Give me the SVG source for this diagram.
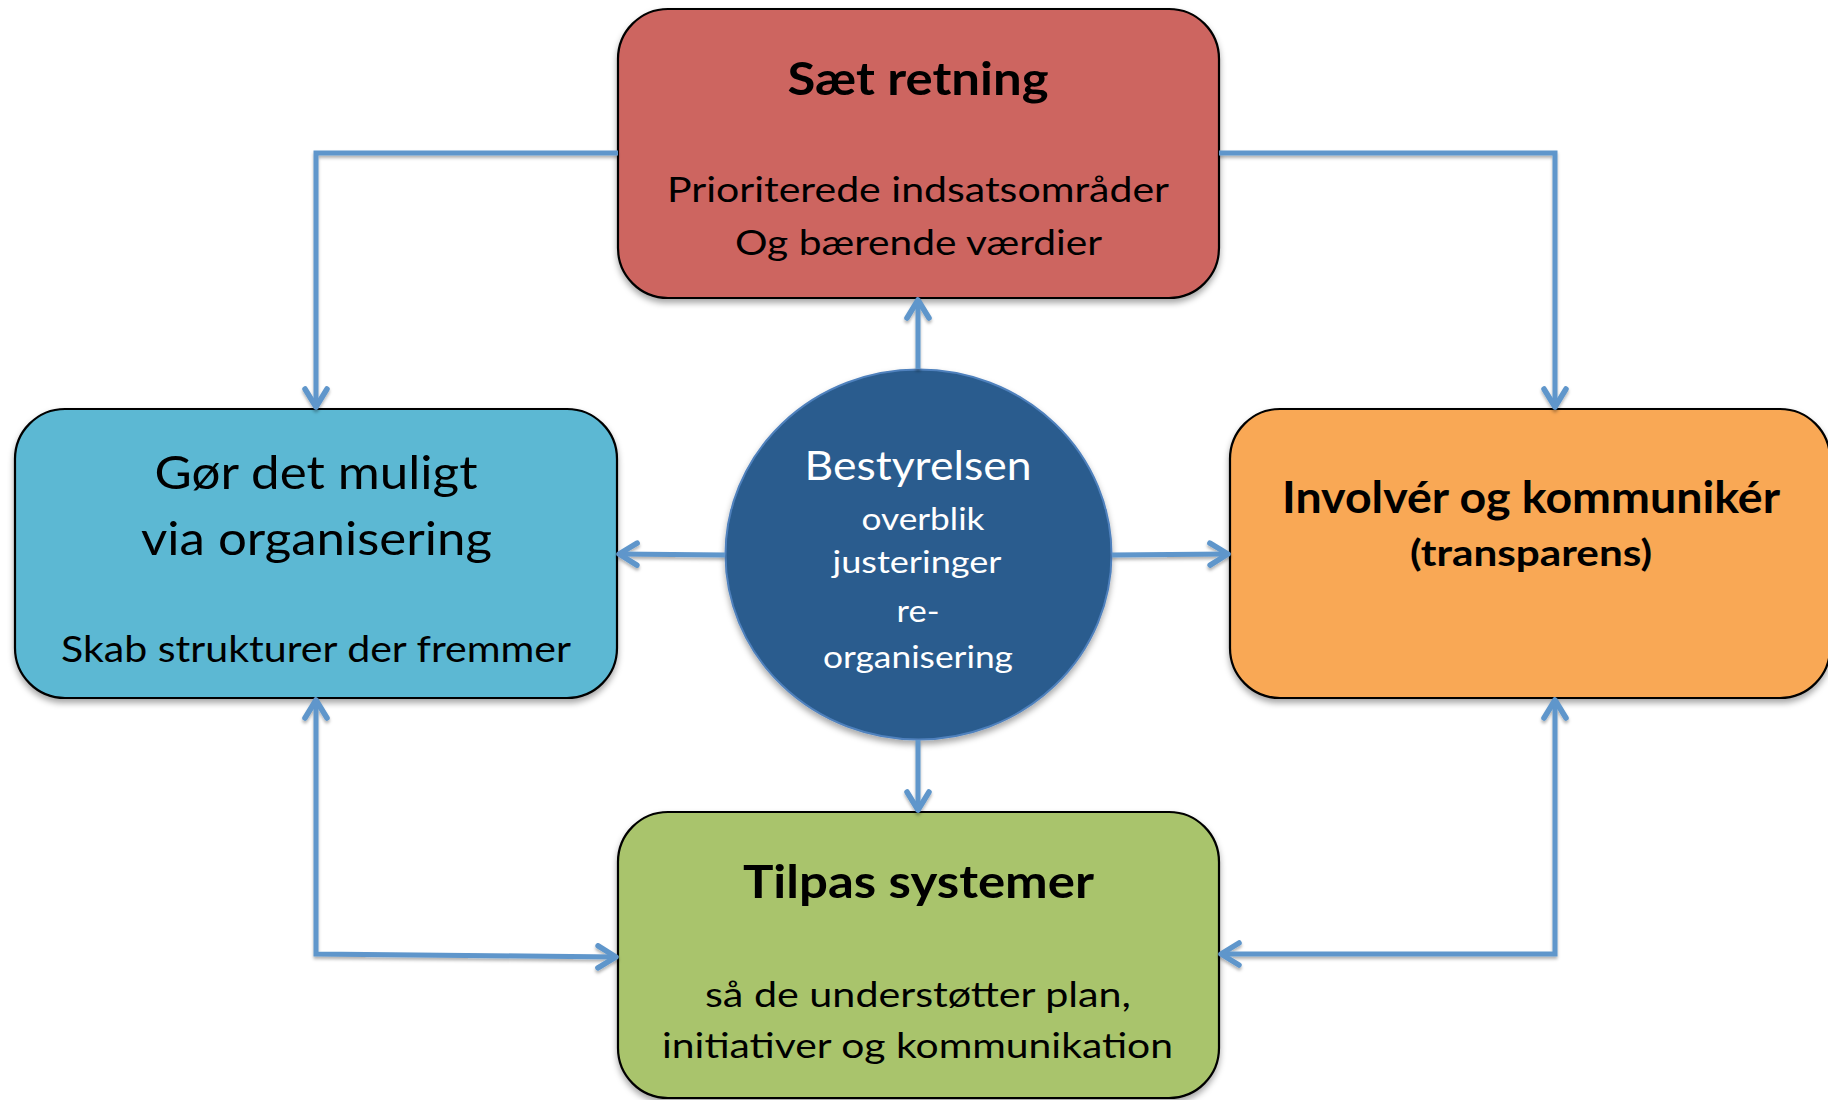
<svg xmlns="http://www.w3.org/2000/svg" width="1828" height="1100" viewBox="0 0 1828 1100">
  <style>
    .box { stroke: #000; stroke-width: 2.2; filter: url(#shadow); }
    .t { font-family: Lato, "Liberation Sans", sans-serif; text-anchor: middle; fill: #000; }
    .b { font-weight: bold; }
    .w { fill: #fff; }
    .conn { fill: none; stroke: #5F96CB; stroke-width: 5; stroke-linejoin: miter; filter: url(#lshadow); }
  </style>
  <defs>
    <filter id="shadow" x="-10%" y="-10%" width="120%" height="130%">
      <feDropShadow dx="0" dy="4" stdDeviation="3" flood-color="#000" flood-opacity="0.35"/>
    </filter>
    <filter id="lshadow" filterUnits="userSpaceOnUse" x="0" y="0" width="1828" height="1100">
      <feDropShadow dx="0" dy="2.5" stdDeviation="1.5" flood-color="#000" flood-opacity="0.3"/>
    </filter>
    <marker id="arr" markerUnits="userSpaceOnUse" markerWidth="30" markerHeight="30" refX="22" refY="14" orient="auto-start-reverse">
      <path d="M4,3 L22,14 L4,25" fill="none" stroke="#5F96CB" stroke-width="5.5" stroke-linecap="round" stroke-linejoin="round"/>
    </marker>
  </defs>
  <rect width="1828" height="1100" fill="#fff"/>

  <g id="node-top">
    <rect class="box" x="618" y="9" width="601" height="289" rx="50" fill="#CD6560"/>
    <text class="t b" x="918" y="95" font-size="46" textLength="261" lengthAdjust="spacingAndGlyphs">Sæt retning</text>
    <text class="t" x="918" y="202" font-size="34" textLength="502" lengthAdjust="spacingAndGlyphs">Prioriterede indsatsområder</text>
    <text class="t" x="918.5" y="255" font-size="34" textLength="367" lengthAdjust="spacingAndGlyphs">Og bærende værdier</text>
  </g>

  <g id="node-left">
    <rect class="box" x="15" y="409" width="602" height="289" rx="50" fill="#5BB8D3"/>
    <text class="t" x="316" y="489" font-size="46" textLength="323" lengthAdjust="spacingAndGlyphs">Gør det muligt</text>
    <text class="t" x="316.5" y="555" font-size="46" textLength="351" lengthAdjust="spacingAndGlyphs">via organisering</text>
    <text class="t" x="316" y="662" font-size="36" textLength="510" lengthAdjust="spacingAndGlyphs">Skab strukturer der fremmer</text>
  </g>

  <g id="node-right">
    <rect class="box" x="1230" y="409" width="600" height="289" rx="50" fill="#F9A855"/>
    <text class="t b" x="1531" y="513" font-size="43" textLength="498" lengthAdjust="spacingAndGlyphs">Involvér og kommunikér</text>
    <text class="t b" x="1531" y="566" font-size="36" textLength="242" lengthAdjust="spacingAndGlyphs">(transparens)</text>
  </g>

  <g id="node-bottom">
    <rect class="box" x="618" y="812" width="601" height="286" rx="50" fill="#A9C46C"/>
    <text class="t b" x="918.5" y="898" font-size="46" textLength="351" lengthAdjust="spacingAndGlyphs">Tilpas systemer</text>
    <text class="t" x="918" y="1007" font-size="35" textLength="426" lengthAdjust="spacingAndGlyphs">så de understøtter plan,</text>
    <text class="t" x="917.5" y="1058" font-size="35" textLength="511" lengthAdjust="spacingAndGlyphs">initiativer og kommunikation</text>
  </g>

  <g id="node-center">
    <ellipse cx="918.5" cy="554.5" rx="193" ry="185" fill="#2A5C8E" stroke="#4F81BD" stroke-width="2" filter="url(#shadow)"/>
    <text class="t w" x="918" y="480" font-size="40" textLength="227" lengthAdjust="spacingAndGlyphs">Bestyrelsen</text>
    <text class="t w" x="923" y="530" font-size="31" textLength="123" lengthAdjust="spacingAndGlyphs">overblik</text>
    <text class="t w" x="917" y="573" font-size="31" textLength="169" lengthAdjust="spacingAndGlyphs">justeringer</text>
    <text class="t w" x="918" y="622" font-size="31" textLength="43" lengthAdjust="spacingAndGlyphs">re-</text>
    <text class="t w" x="918" y="668" font-size="31" textLength="190" lengthAdjust="spacingAndGlyphs">organisering</text>
  </g>

  <g id="connectors">
    <path class="conn" d="M618,153 L316,153 L316,407" marker-end="url(#arr)"/>
    <path class="conn" d="M1219,153 L1555,153 L1555,407" marker-end="url(#arr)"/>
    <path class="conn" d="M918,369 L918,300" marker-end="url(#arr)"/>
    <path class="conn" d="M918,740 L918,810" marker-end="url(#arr)"/>
    <path class="conn" d="M725,555 L619,554" marker-end="url(#arr)"/>
    <path class="conn" d="M1112,555 L1228,554" marker-end="url(#arr)"/>
    <path class="conn" d="M316,700 L316,954 L616,957" marker-start="url(#arr)" marker-end="url(#arr)"/>
    <path class="conn" d="M1555,700 L1555,954 L1221,954" marker-start="url(#arr)" marker-end="url(#arr)"/>
  </g>
</svg>
